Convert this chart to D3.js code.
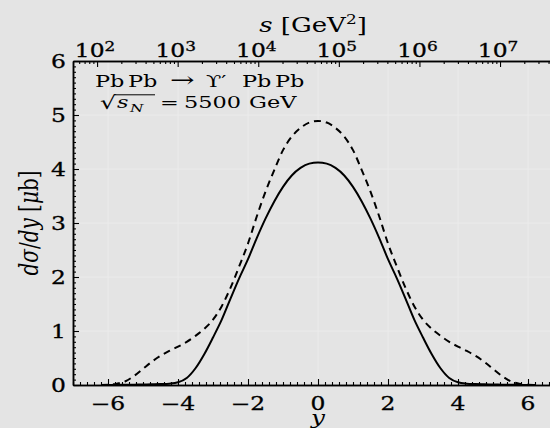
<!DOCTYPE html>
<html>
<head>
<meta charset="utf-8">
<script src="https://cdn.jsdelivr.net/npm/d3@7"></script>
<style>
  html, body { margin: 0; padding: 0; background: #e4e4e4; }
  svg { display: block; }
  text { font-family: "DejaVu Serif", serif; fill: #000; }
  .tl { stroke: #000; stroke-width: 0.3; paint-order: stroke; }
</style>
</head>
<body>
<svg id="chart" width="550" height="428"></svg>
<script>
// Rapidity grid and cross sections dσ/dy [μb] for PbPb -> Υ' PbPb at √s_N = 5500 GeV
const rapidity = [-6.2, -6, -5.75, -5.5, -5.25, -5, -4.75, -4.5, -4.25, -4, -3.75, -3.5, -3.25, -3,
  -2.75, -2.5, -2.25, -2, -1.75, -1.5, -1.25, -1, -0.75, -0.5, -0.25, 0,
  0.25, 0.5, 0.75, 1, 1.25, 1.5, 1.75, 2, 2.25, 2.5, 2.75, 3, 3.25, 3.5, 3.75, 4,
  4.25, 4.5, 4.75, 5, 5.25, 5.5, 5.75, 6, 6.2];

const dsdySolid = [0.0, 0.001, 0.002, 0.004, 0.006, 0.009, 0.012, 0.017, 0.025, 0.05, 0.13, 0.31, 0.57, 0.88,
  1.21, 1.6, 1.98, 2.33, 2.72, 3.08, 3.4, 3.67, 3.88, 4.02, 4.1, 4.12,
  4.1, 4.02, 3.88, 3.67, 3.4, 3.08, 2.72, 2.33, 1.98, 1.6, 1.21, 0.88, 0.57, 0.31, 0.13, 0.05,
  0.025, 0.017, 0.012, 0.009, 0.006, 0.004, 0.002, 0.001, 0.0];

const dsdyDashed = [0.0, 0.003, 0.025, 0.07, 0.17, 0.3, 0.43, 0.54, 0.63, 0.71, 0.8, 0.91, 1.04, 1.21,
  1.46, 1.8, 2.2, 2.62, 3.12, 3.58, 3.98, 4.35, 4.6, 4.76, 4.86, 4.89,
  4.86, 4.76, 4.6, 4.35, 3.98, 3.58, 3.12, 2.62, 2.2, 1.8, 1.46, 1.21, 1.04, 0.91, 0.8, 0.71,
  0.63, 0.54, 0.43, 0.3, 0.17, 0.07, 0.025, 0.003, 0.0];

// Axis ticks
const xTickLabels = [-6, -4, -2, 0, 2, 4, 6];
const yTickLabels = [0, 1, 2, 3, 4, 5, 6];
const sDecades = [2, 3, 4, 5, 6, 7];

// Kinematics for the photon-nucleon energy axis: s = M * √s_N * e^y
const MASS = 10.023;
const ROOT_SNN = 5500;

const SX = 1.3;   // horizontal stretch of axis type
const SXA = 1.4;  // horizontal stretch of the annotation

const svg = d3.select("#chart");
const plotL = 73, plotR = 563, plotT = 61, plotB = 385;

const x = d3.scaleLinear().domain([-7, 7]).range([plotL, plotR]);
const y = d3.scaleLinear().domain([0, 6]).range([plotB, plotT]);
const s = d3.scaleLog()
  .domain([MASS * ROOT_SNN * Math.exp(-7), MASS * ROOT_SNN * Math.exp(7)])
  .range([plotL, plotR]);

// grid
const grid = svg.append("g").attr("stroke", "#ebebeb").attr("stroke-width", 1);
grid.selectAll("line.v").data(xTickLabels).join("line")
  .attr("x1", d => x(d)).attr("x2", d => x(d)).attr("y1", plotT).attr("y2", plotB);
grid.selectAll("line.h").data(yTickLabels.filter(d => d > 0 && d < 6)).join("line")
  .attr("x1", plotL).attr("x2", plotR).attr("y1", d => y(d)).attr("y2", d => y(d));

// axes (ticks pointing inward)
function styleAxis(g) {
  g.selectAll("path.domain").attr("stroke", "#000").attr("stroke-width", 1.5);
  g.selectAll(".tick line").attr("stroke", "#000").attr("stroke-width", 1.1);
  g.selectAll(".tick text").remove();
}

const xMinor = d3.range(-70, 71, 2).map(d => d / 10).filter(d => !xTickLabels.includes(d));
svg.append("g").attr("transform", `translate(0,${plotB})`)
  .call(d3.axisBottom(x).tickValues(xMinor).tickSize(-3).tickSizeOuter(0)).call(styleAxis);
svg.append("g").attr("transform", `translate(0,${plotB})`)
  .call(d3.axisBottom(x).tickValues(xTickLabels).tickSize(-6).tickSizeOuter(0)).call(styleAxis);

const yMinor = d3.range(0, 61, 1).map(d => d / 10).filter(d => !yTickLabels.includes(d));
svg.append("g").attr("transform", `translate(${plotL},0)`)
  .call(d3.axisLeft(y).tickValues(yMinor).tickSize(-3).tickSizeOuter(0)).call(styleAxis);
svg.append("g").attr("transform", `translate(${plotL},0)`)
  .call(d3.axisLeft(y).tickValues(yTickLabels).tickSize(-6).tickSizeOuter(0)).call(styleAxis);

const sMajor = sDecades.map(n => Math.pow(10, n));
const sMinor = [];
for (let n = 1; n <= 7; n++) for (let k = 2; k <= 9; k++) sMinor.push(k * Math.pow(10, n));
const sDom = s.domain();
svg.append("g").attr("transform", `translate(0,${plotT})`)
  .call(d3.axisTop(s).tickValues(sMinor.filter(v => v >= sDom[0] && v <= sDom[1])).tickSize(-3).tickSizeOuter(0))
  .call(styleAxis);
svg.append("g").attr("transform", `translate(0,${plotT})`)
  .call(d3.axisTop(s).tickValues(sMajor).tickSize(-6).tickSizeOuter(0)).call(styleAxis);

// text helpers
function stretched(parent, px, py, anchor, sx) {
  return parent.append("text")
    .attr("transform", `translate(${px},${py}) scale(${sx || SX},1)`)
    .attr("text-anchor", anchor);
}

// tick labels
const labels = svg.append("g");
xTickLabels.forEach(v => {
  stretched(labels, x(v), 410, "middle").attr("class", "tl").attr("font-size", 18).text(d3.format("")(v));
});
yTickLabels.forEach(v => {
  stretched(labels, 66, y(v) + 6.5, "end").attr("class", "tl").attr("font-size", 18).text(v);
});
sMajor.forEach((v, i) => {
  const t = stretched(labels, s(v) - 2, 57, "middle").attr("class", "tl").attr("font-size", 18);
  t.append("tspan").text("10");
  t.append("tspan").attr("font-size", 13).attr("dy", -6).text(sDecades[i]);
});

// axis titles
const title = stretched(svg, 313, 32, "middle").attr("font-size", 20);
title.append("tspan").attr("font-style", "italic").text("s");
title.append("tspan").text(" [GeV");
title.append("tspan").attr("font-size", 13).attr("dy", -8).text("2");
title.append("tspan").attr("dy", 8).text("]");

stretched(svg, x(0), 424, "middle").attr("font-size", 19).attr("font-style", "italic").text("y");

const yl = svg.append("text")
  .attr("transform", `translate(38,223) rotate(-90) scale(1,${SX})`)
  .attr("text-anchor", "middle").attr("font-size", 20);
yl.append("tspan").attr("font-style", "italic").text("dσ");
yl.append("tspan").text("/");
yl.append("tspan").attr("font-style", "italic").text("dy");
yl.append("tspan").text(" [");
yl.append("tspan").attr("font-style", "italic").text("μ");
yl.append("tspan").text("b]");

// process annotation: Pb Pb -> Υ' Pb Pb
const note = svg.append("g");
[["Pb", 95, 16], ["Pb", 128, 16], ["→", 170, 21], ["ϒ′", 206, 16], ["Pb", 242, 16], ["Pb", 275, 16]]
  .forEach(([tok, px, fs]) => {
    stretched(note, px, 87, "start", SXA).attr("font-size", fs).text(tok);
  });
// √s_N = 5500 GeV
stretched(note, 100, 109, "start", SXA).attr("font-size", 18).text("√");
note.append("line").attr("x1", 114).attr("x2", 155).attr("y1", 94.8).attr("y2", 94.8)
  .attr("stroke", "#000").attr("stroke-width", 1);
stretched(note, 117, 108, "start", SXA).attr("font-size", 16).attr("font-style", "italic").text("s");
stretched(note, 130, 112, "start", SXA).attr("font-size", 11).attr("font-style", "italic").text("N");
stretched(note, 160, 108, "start", SXA).attr("font-size", 16).text("=");
stretched(note, 184, 108, "start", SXA).attr("font-size", 16).text("5500");
stretched(note, 249, 108, "start", SXA).attr("font-size", 16).text("GeV");

// curves
const line = d3.line().x(d => x(d[0])).y(d => y(d[1])).curve(d3.curveMonotoneX);
svg.append("path").datum(rapidity.map((r, i) => [r, dsdyDashed[i]]))
  .attr("d", line).attr("fill", "none").attr("stroke", "#000").attr("stroke-width", 2)
  .attr("stroke-dasharray", "7,5");
svg.append("path").datum(rapidity.map((r, i) => [r, dsdySolid[i]]))
  .attr("d", line).attr("fill", "none").attr("stroke", "#000").attr("stroke-width", 2);
</script>
</body>
</html>
